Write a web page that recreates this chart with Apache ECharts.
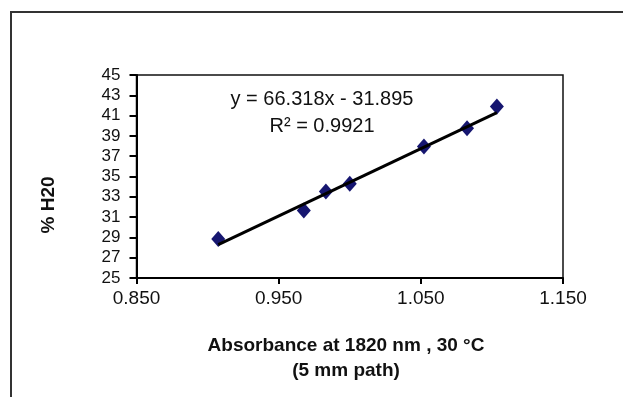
<!DOCTYPE html>
<html>
<head>
<meta charset="utf-8">
<script src="https://cdn.jsdelivr.net/npm/echarts@6/dist/echarts.min.js"></script>
<style>
	html, body { margin: 0; padding: 0; background: #fff; }
	#chart { width: 623px; height: 397px; }
</style>
</head>
<body>
<div id="chart"></div>
<script>
// absorbance at 1820 nm vs % water
const absorbance = [0.9075, 0.9677, 0.9832, 1.0, 1.0522, 1.0825, 1.1035];
const water = [28.84, 31.65, 33.52, 34.28, 37.95, 39.76, 41.9];

// trendline from the label
const slope = 66.318;
const intercept = -31.895;
const equationText = "y = 66.318x - 31.895";
const r2Text = "R\u00b2 = 0.9921";

const xTicks = [0.85, 0.95, 1.05, 1.15];
const yTicks = [25, 27, 29, 31, 33, 35, 37, 39, 41, 43, 45];

const font = "Arial, 'Liberation Sans', sans-serif";

var chartDom = document.getElementById("chart");
var chart = echarts.init(chartDom, null, { renderer: "canvas" });

const points = absorbance.map((x, i) => [x, water[i]]);
const xFirst = absorbance[0];
const xLast = absorbance[absorbance.length - 1];
const trend = [
	[xFirst, slope * xFirst + intercept],
	[xLast, slope * xLast + intercept],
];

const options = {
	backgroundColor: "#fff",
	animation: false,
	grid: {
		left: 136.5,
		right: 60,
		top: 75,
		bottom: 119,
		show: true,
		borderColor: "#111",
		borderWidth: 1.5,
	},
	xAxis: {
		type: "value",
		min: xTicks[0],
		max: xTicks[xTicks.length - 1],
		interval: 0.1,
		splitLine: { show: false },
		axisLine: { onZero: false, lineStyle: { color: "#000", width: 2 } },
		axisTick: { length: 6, lineStyle: { color: "#000", width: 2 } },
		axisLabel: {
			margin: 11,
			color: "#111",
			fontSize: 19,
			fontFamily: font,
			formatter: (v) => v.toFixed(3),
		},
	},
	yAxis: {
		type: "value",
		min: yTicks[0],
		max: yTicks[yTicks.length - 1],
		interval: 2,
		splitLine: { show: false },
		axisLine: { onZero: false, lineStyle: { color: "#000", width: 2 } },
		axisTick: { length: 7, lineStyle: { color: "#000", width: 2 } },
		axisLabel: {
			margin: 16,
			color: "#111",
			fontSize: 17,
			fontFamily: font,
		},
	},
	series: [
		{
			name: "Data",
			type: "scatter",
			data: points,
			symbol: "diamond",
			symbolSize: [14, 16],
			itemStyle: { color: "#161670", opacity: 1 },
			z: 2,
		},
		{
			name: "Trend",
			type: "line",
			data: trend,
			showSymbol: false,
			symbol: "none",
			lineStyle: { color: "#000", width: 3 },
			z: 3,
		},
	],
	graphic: [
		{
			type: "rect",
			silent: true,
			shape: { x: 11, y: 12, width: 700, height: 500 },
			style: { fill: null, stroke: "#333", lineWidth: 2 },
		},
		{
			type: "text",
			x: 322,
			y: 113,
			style: {
				text: equationText + "\n" + r2Text,
				font: "20px " + font,
				fill: "#111",
				align: "center",
				verticalAlign: "middle",
				lineHeight: 27,
			},
			z: 10,
		},
		{
			type: "text",
			x: 49,
			y: 205,
			rotation: Math.PI / 2,
			style: {
				text: "% H20",
				font: "bold 19px " + font,
				fill: "#111",
				align: "center",
				verticalAlign: "middle",
			},
		},
		{
			type: "text",
			x: 346,
			y: 358,
			style: {
				text: "Absorbance at 1820 nm , 30 \u00b0C\n(5 mm path)",
				font: "bold 19px " + font,
				fill: "#111",
				align: "center",
				verticalAlign: "middle",
				lineHeight: 25,
			},
		},
	],
};

chart.setOption(options);
</script>
</body>
</html>
